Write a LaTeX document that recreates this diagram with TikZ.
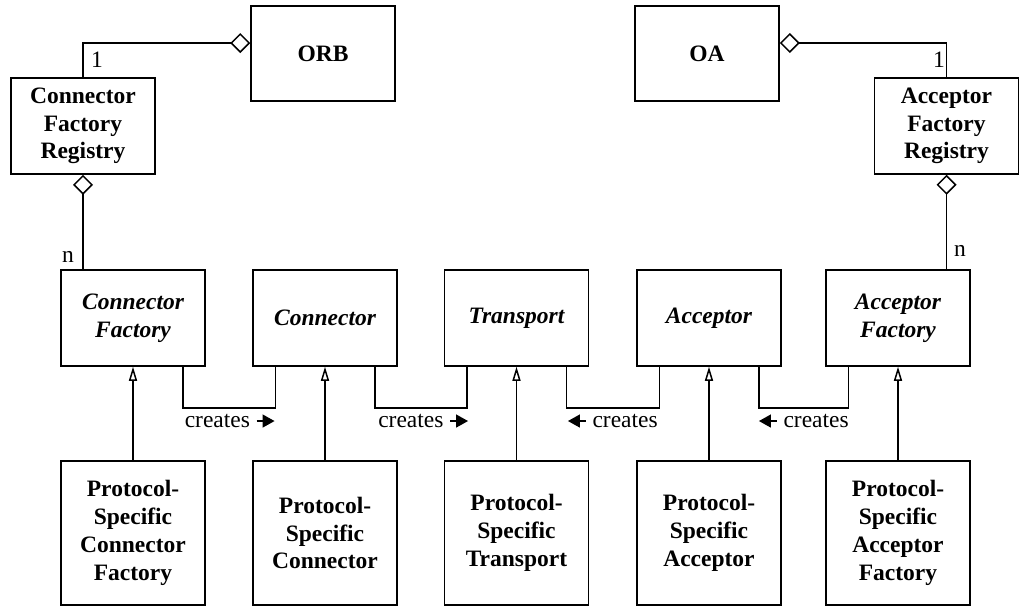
\documentclass[tikz,border=0pt]{standalone}
\usepackage{fontspec}
\setmainfont{Liberation Serif}
\usepackage{tikz}
\usetikzlibrary{arrows.meta}

\newcommand{\rarr}{\tikz[baseline=-0.6ex, x=1pt, y=1pt]\draw[line width=0.7pt,-{Triangle[length=6pt,width=6.5pt]}] (0,0) -- (9,0);}
\newcommand{\larr}{\tikz[baseline=-0.6ex, x=1pt, y=1pt]\draw[line width=0.7pt,{Triangle[length=6pt,width=6.5pt]}-] (0,0) -- (9,0);}

\begin{document}
\begin{tikzpicture}[
  x = 0.5pt, y = -0.5pt,
  line width = 0.75pt,
  box/.style = {draw, align = center, inner sep = 1pt, minimum width = 72pt,
    font = \fontsize{11.75}{13.9}\selectfont\bfseries},
  topbox/.style = {box, minimum height = 47.5pt},
  abox/.style = {box, minimum height = 48pt, font = \fontsize{11.75}{13.9}\selectfont\bfseries\itshape},
  pbox/.style = {box, minimum height = 72pt},
  lbl/.style = {inner sep = 1pt, font = \fontsize{11.75}{13.9}\selectfont},
  agg/.style = {{Diamond[open, length = 10pt, width = 10pt]}-},
  inh/.style = {-{Triangle[open, length = 7pt, width = 4pt]}}
]
\useasboundingbox (0,0) rectangle (1019,606);

% registries and the ORB / OA
\node[topbox] (orb) at (323,53.5) {ORB};
\node[topbox] (oa) at (707,53.5) {OA};
\node[box, minimum height = 48pt] (cfr) at (83,126) {Connector\\Factory\\Registry};
\node[box, minimum height = 48pt] (afr) at (946.5,126) {Acceptor\\Factory\\Registry};

% abstract classes
\node[abox] (cf) at (133,318) {Connector\\Factory};
\node[abox] (conn) at (325,318) {Connector};
\node[abox] (trans) at (516.5,318) {Transport};
\node[abox] (acc) at (709,318) {Acceptor};
\node[abox] (af) at (898,318) {Acceptor\\Factory};

% protocol-specific classes
\node[pbox] (pcf) at (133,533) {Protocol-\\Specific\\Connector\\Factory};
\node[pbox] (pconn) at (325,533) {Protocol-\\Specific\\Connector};
\node[pbox] (ptrans) at (516.5,533) {Protocol-\\Specific\\Transport};
\node[pbox] (pacc) at (709,533) {Protocol-\\Specific\\Acceptor};
\node[pbox] (paf) at (898,533) {Protocol-\\Specific\\Acceptor\\Factory};

% aggregations
\draw[agg] ([yshift=5.25pt]orb.west) -| (cfr.north);
\draw[agg] ([yshift=5.25pt]oa.east) -| (afr.north);
\draw[agg] (cfr.south) -- (cfr.south |- cf.north);
\draw[agg] (afr.south) -- (afr.south |- af.north);
\node[lbl] (m1) at (97,60) {1};
\node[lbl] (m2) at (939,60) {1};
\node[lbl] (m3) at (68,257) {n};
\node[lbl] (m4) at (960,251) {n};

% creates
\foreach \a/\b in {cf/conn, conn/trans, trans/acc, acc/af}
  \draw ([xshift=-11.5pt]\a.south east) -- ++(0,41) -| ([xshift=11.5pt]\b.south west);
\node[lbl] (c1) at (230,421) {creates \rarr};
\node[lbl] (c2) at (423.5,421) {creates \rarr};
\node[lbl] (c3) at (612.5,421) {\larr\ creates};
\node[lbl] (c4) at (803.5,421) {\larr\ creates};

% inheritance
\foreach \t in {cf, conn, trans, acc, af}
  \draw[inh] (p\t.north) -- (\t.south);
\end{tikzpicture}
\end{document}
